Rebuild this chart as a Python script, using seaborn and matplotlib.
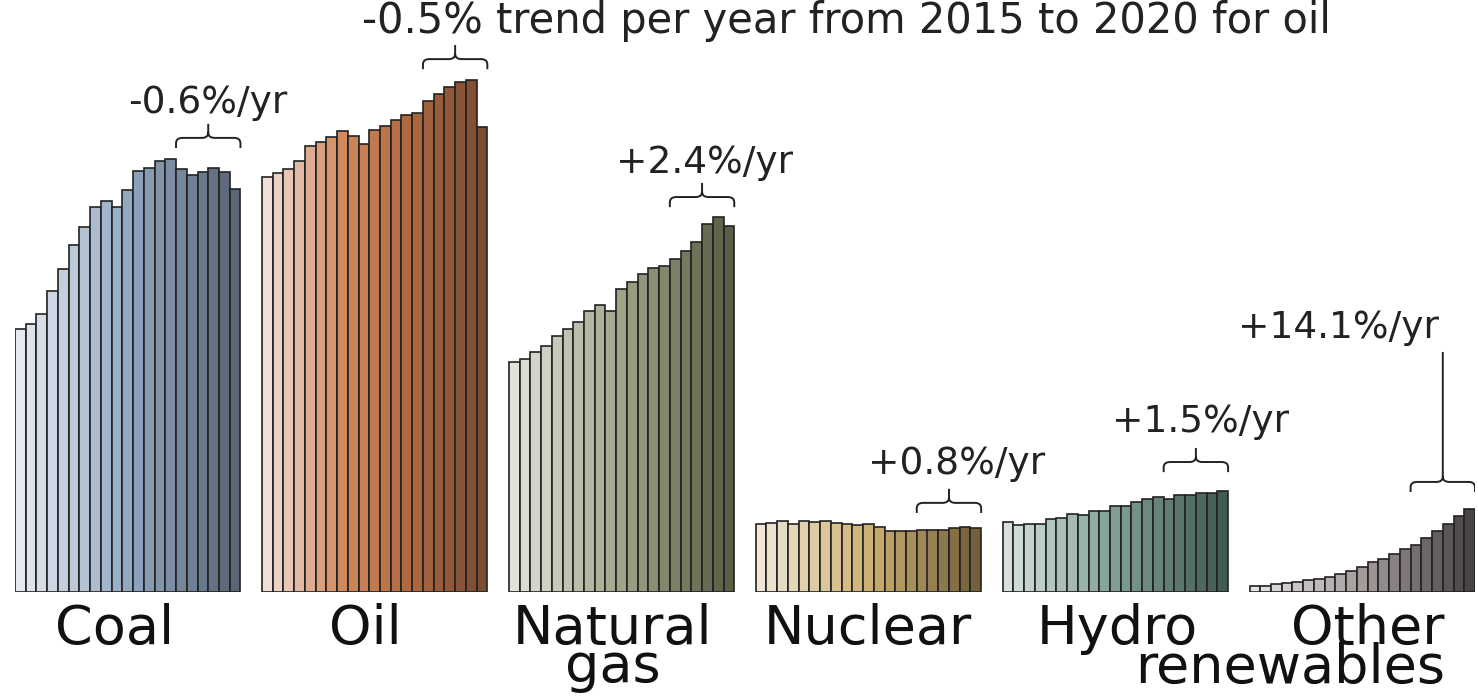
import numpy as np
import pandas as pd
import matplotlib.pyplot as plt
import seaborn as sns
from matplotlib.path import Path
from matplotlib.patches import PathPatch

sns.set_style('white')
plt.rcParams['font.family'] = ['DejaVu Sans']

# world primary energy consumption, EJ, 2000-2020
years = list(range(2000, 2021))
fuels = ['Coal', 'Oil', 'Natural\ngas', 'Nuclear', 'Hydro', 'Other\nrenewables']

coal = [99.2, 101.0, 104.8, 113.5, 121.8, 130.8, 137.6, 145.1, 147.4, 145.1, 151.6,
        158.7, 159.8, 162.5, 163.2, 159.5, 157.2, 158.3, 159.8, 158.3, 151.9]
oil = [156.5, 158.0, 159.5, 162.5, 168.1, 169.7, 171.5, 173.8, 171.9, 168.9, 174.2,
       175.7, 177.9, 179.8, 180.6, 185.1, 187.7, 190.4, 192.3, 193.0, 175.3]
gas = [86.7, 87.8, 90.5, 92.7, 96.5, 99.2, 101.8, 105.9, 108.2, 105.9, 114.2,
       116.9, 119.9, 122.1, 122.9, 125.5, 128.6, 132.0, 138.7, 141.4, 138.0]
nuclear = [25.6, 26.0, 26.8, 25.6, 26.8, 26.4, 26.8, 26.0, 25.6, 25.3, 25.6,
           24.5, 23.0, 23.0, 23.0, 23.4, 23.4, 23.4, 24.1, 24.5, 24.1]
hydro = [26.4, 25.3, 25.6, 25.6, 27.5, 27.9, 29.4, 29.0, 30.5, 30.5, 32.4,
         32.4, 33.9, 35.1, 35.8, 35.1, 36.6, 36.6, 37.3, 37.3, 38.1]
other = [2.3, 2.3, 3.0, 3.4, 3.8, 4.5, 4.9, 5.7, 6.8, 7.9, 9.4,
         11.3, 12.4, 14.3, 16.2, 17.7, 20.4, 23.0, 25.6, 28.7, 31.3]

trends = ['-0.6%/yr', '-0.5% trend per year from 2015 to 2020 for oil', '+2.4%/yr',
          '+0.8%/yr', '+1.5%/yr', '+14.1%/yr']

colors = [
    ['#e4e9f1', '#8ba8c9', '#55647a'],
    ['#f4dcd3', '#e3874d', '#c0642e', '#874826'],
    ['#e2e4d9', '#a2a983', '#5b6240'],
    ['#f3e7d2', '#dcb564', '#7b6331'],
    ['#d5e2de', '#7aa496', '#3e5f54'],
    ['#e6e2e2', '#a69a9a', '#4a4343'],
]

# layout: bracket height, text baseline, text x offset / alignment
brace_y = [171.2, 200.9, 148.9, 33.6, 49.0, 41.5]
text_y = [180.6, 210.7, 158.0, 44.5, 60.3, 95.8]
text_x = [17.5, 8.8, 17.7, 18.2, 17.9, 7.8]
text_ha = ['center', 'left', 'center', 'center', 'center', 'center']
text_size = [27, 30, 27, 27, 27, 27]
label_x = [8.8, 9.1, 9.2, 9.9, 10.2, 17.7]
label_ha = ['center', 'center', 'center', 'center', 'center', 'right']

series = [coal, oil, gas, nuclear, hydro, other]
step = len(years) + 2

rows = []
for g, (fuel, vals) in enumerate(zip(fuels, series)):
    for j, (yr, v) in enumerate(zip(years, vals)):
        rows.append({'fuel': fuel, 'year': yr, 'pos': g * step + j, 'value': v})
df = pd.DataFrame(rows)

fig = plt.figure(figsize=(14.78, 6.99), dpi=100)
ax = fig.add_axes([15 / 1478, 107 / 699, 1460 / 1478, 592 / 699])


def brace(ax, x0, x1, y, tip=3.8, tick=5.3, rx=0.6, ry=2.0, top=None):
    xc = (x0 + x1) / 2
    yc = y + tick if top is None else top
    verts = [(x0, y - tip), (x0, y - ry), (x0, y), (x0 + rx, y),
             (xc - rx, y), (xc, y), (xc, y + ry), (xc, yc),
             (xc, y + ry), (xc, y), (xc + rx, y),
             (x1 - rx, y), (x1, y), (x1, y - ry), (x1, y - tip)]
    codes = [Path.MOVETO, Path.LINETO, Path.CURVE3, Path.CURVE3,
             Path.LINETO, Path.CURVE3, Path.CURVE3, Path.LINETO,
             Path.MOVETO, Path.CURVE3, Path.CURVE3,
             Path.LINETO, Path.CURVE3, Path.CURVE3, Path.LINETO]
    ax.add_patch(PathPatch(Path(verts, codes), fill=False, lw=1.4,
                           edgecolor='#222222', capstyle='butt'))


for g, fuel in enumerate(fuels):
    sub = df[df['fuel'] == fuel]
    pal = sns.blend_palette(colors[g], len(years))
    sns.barplot(data=sub, x='pos', y='value', hue='year', palette=pal,
                dodge=False, native_scale=True, width=1, errorbar=None,
                edgecolor='#222222', linewidth=1.2, legend=False, ax=ax)

    start = g * step
    x0 = start + 15 - 0.5
    x1 = start + 20 + 0.5
    top = 90.5 if g == 5 else None
    brace(ax, x0, x1, brace_y[g], top=top)
    ax.text(start + text_x[g], text_y[g], trends[g], ha=text_ha[g],
            va='baseline', fontsize=text_size[g], color='#222222')
    ax.text(start + label_x[g], -4.0, fuel, ha=label_ha[g], va='top',
            fontsize=39, color='#111111', linespacing=0.68,
            multialignment='right' if g == 5 else 'center')

ax.set_xlim(-0.5, len(fuels) * step - 2 - 0.5)
ax.set_ylim(0, 592 * 0.377)
ax.axis('off')

plt.savefig('out.png', dpi=100)
